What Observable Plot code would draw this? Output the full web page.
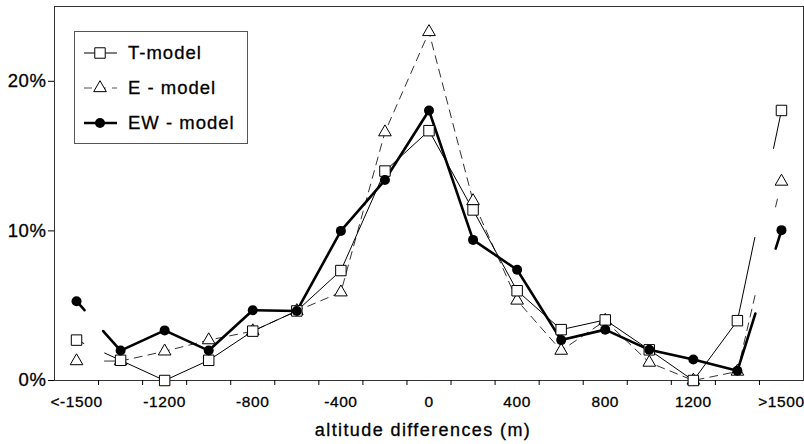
<!DOCTYPE html>
<html>
<head>
<meta charset="utf-8">
<script src="https://cdn.jsdelivr.net/npm/d3@7"></script>
<script src="https://cdn.jsdelivr.net/npm/@observablehq/plot@0.6"></script>
<style>
  body { margin: 0; background: #fff; }
  #wrap { position: relative; width: 804px; height: 444px; overflow: hidden; }
  #legend { position: absolute; left: 74px; top: 31px; }
  #wrap text { stroke: #000; stroke-width: 0.3px; }
</style>
</head>
<body>
<div id="wrap"></div>
<script>
// ---- data ----
const categories = ["<-1500", "-1400", "-1200", "-1000", "-800", "-600", "-400", "-200", "0",
                    "200", "400", "600", "800", "1000", "1200", "1400", ">1500"];
const positions  = [-1600, -1400, -1200, -1000, -800, -600, -400, -200, 0,
                    200, 400, 600, 800, 1000, 1200, 1400, 1600];
const tModel  = [2.7, 1.35, 0.0, 1.35, 3.3, 4.65, 7.35, 14.0, 16.7, 11.4, 6.0, 3.4, 4.05, 2.05, 0.0, 4.0, 18.05];
const eModel  = [1.3, 1.3, 1.95, 2.7, 3.3, 4.65, 5.9, 16.6, 23.3, 12.0, 5.35, 2.0, 4.0, 1.2, 0.0, 0.6, 13.3];
const ewModel = [5.3, 2.0, 3.35, 2.0, 4.7, 4.65, 10.0, 13.4, 18.05, 9.4, 7.4, 2.7, 3.4, 2.05, 1.4, 0.65, 10.05];
const xTickValues = [-1600, -1200, -800, -400, 0, 400, 800, 1200, 1600];
const xTickLabels = ["<-1500", "-1200", "-800", "-400", "0", "400", "800", "1200", ">1500"];
const yTickValues = [0, 10, 20];
const yTickLabels = ["0%", "10%", "20%"];
const seriesNames = ["T-model", "E - model", "EW - model"];
const xTitle = "altitude differences (m)";

// ---- build table ----
const rows = positions.map((x, i) => ({cat: categories[i], x, t: tModel[i], e: eModel[i], ew: ewModel[i]}));
const boundaries = d3.pairs(positions).map(([a, b]) => (a + b) / 2);
const main = rows.slice(1, rows.length - 1);
const left = rows.slice(0, 2);
const right = rows.slice(rows.length - 2);

const font = "'Liberation Sans', Arial, Helvetica, sans-serif";

const chart = Plot.plot({
  width: 804,
  height: 444,
  marginLeft: 54,
  marginRight: 1,
  marginTop: 6,
  marginBottom: 64,
  style: {fontFamily: font, background: "#fff", color: "#000", letterSpacing: "0.6px"},
  x: {domain: [-1700, 1700], axis: null},
  y: {domain: [0, 25], axis: null},
  marks: [
    Plot.frame({stroke: "#333", strokeWidth: 1}),
    // x ticks at category boundaries
    Plot.axisX(boundaries, {tickSize: 5, tickFormat: () => "", label: null, stroke: "#000"}),
    // x tick labels at categories
    Plot.axisX(xTickValues, {tickSize: 0, tickPadding: 15, tickFormat: d => xTickLabels[xTickValues.indexOf(d)],
      fontSize: 15.5, label: null}),
    Plot.axisY(yTickValues, {tickSize: 6, tickPadding: 2, tickFormat: d => yTickLabels[yTickValues.indexOf(d)],
      fontSize: 18.5, label: null, stroke: "#000"}),
    Plot.text([xTitle], {frameAnchor: "bottom", dy: 50, dx: -6, fontSize: 18, text: d => d, lineAnchor: "middle"}),

    // E - model (dashed)
    Plot.line(main, {x: "x", y: "e", stroke: "#333", strokeWidth: 1, strokeDasharray: "8,6"}),
    Plot.line(left, {x: "x", y: "e", stroke: "#333", strokeWidth: 1, strokeDasharray: "0,28,100"}),
    Plot.line(right, {x: "x", y: "e", stroke: "#333", strokeWidth: 1, strokeDasharray: "8,6,8,6,8,6,8,6,8,6,8,91,8,200"}),
    // T-model (thin solid)
    Plot.line(main, {x: "x", y: "t", stroke: "#000", strokeWidth: 1}),
    Plot.line(left, {x: "x", y: "t", stroke: "#000", strokeWidth: 1, strokeDasharray: "8,23,200"}),
    Plot.line(right, {x: "x", y: "t", stroke: "#000", strokeWidth: 1, strokeDasharray: "85,91,200"}),
    // EW-model (thick)
    Plot.line(main, {x: "x", y: "ew", stroke: "#000", strokeWidth: 2.6}),
    Plot.line(left, {x: "x", y: "ew", stroke: "#000", strokeWidth: 2.6, strokeDasharray: "12,28,200"}),
    Plot.line(right, {x: "x", y: "ew", stroke: "#000", strokeWidth: 2.6, strokeDasharray: "60,68,200"}),

    Plot.dot(rows, {x: "x", y: "e", symbol: "triangle", r: 4.7, fill: "#fff", stroke: "#000", strokeWidth: 1}),
    Plot.dot(rows, {x: "x", y: "t", symbol: "square", r: 5.9, fill: "#fff", stroke: "#000", strokeWidth: 1}),
    Plot.dot(rows, {x: "x", y: "ew", symbol: "circle", r: 5, fill: "#000", stroke: "none"})
  ]
});

// widen the axis title spacing as in the reference
d3.select(chart).selectAll("text").filter(function() { return this.textContent === xTitle; })
  .style("letter-spacing", "1.4px");

const wrap = document.getElementById("wrap");
wrap.appendChild(chart);

// ---- legend (overlay) ----
const lg = d3.select(wrap).append("svg").attr("id", "legend")
  .attr("width", 175).attr("height", 114)
  .style("font-family", font);
lg.append("rect").attr("x", 0.5).attr("y", 0.5).attr("width", 173).attr("height", 112)
  .attr("fill", "#fff").attr("stroke", "#555").attr("stroke-width", 1);
const styles = [
  {dash: null, w: 1, stroke: "#000", sym: d3.symbolSquare, r: 5.9, fill: "#fff"},
  {dash: "8,6", w: 1, stroke: "#555", sym: d3.symbolTriangle, r: 4.7, fill: "#fff"},
  {dash: null, w: 2.6, stroke: "#000", sym: d3.symbolCircle, r: 5, fill: "#000"}
];
seriesNames.forEach((name, i) => {
  const cy = 22 + i * 35;
  const s = styles[i];
  lg.append("line").attr("x1", 10).attr("x2", 43).attr("y1", cy).attr("y2", cy)
    .attr("stroke", s.stroke).attr("stroke-width", s.w).attr("stroke-dasharray", s.dash);
  lg.append("path").attr("transform", `translate(26,${cy})`)
    .attr("d", d3.symbol(s.sym, Math.PI * s.r * s.r)())
    .attr("fill", s.fill).attr("stroke", i === 2 ? "none" : "#000").attr("stroke-width", 1);
  lg.append("text").attr("x", 54).attr("y", cy).attr("dy", "0.35em")
    .attr("font-size", 18.5).style("letter-spacing", "1px").text(name);
});
</script>
</body>
</html>
